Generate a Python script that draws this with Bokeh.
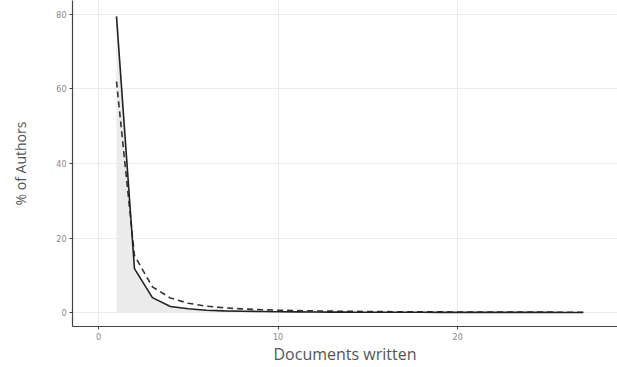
from bokeh.plotting import figure
from bokeh.models import Range1d, FixedTicker
from bokeh.embed import file_html
from bokeh.resources import INLINE

docs = list(range(1, 28))
observed = [79.5, 11.8, 4.0, 1.6, 1.0, 0.6, 0.45, 0.35, 0.28, 0.22, 0.18, 0.15, 0.12, 0.1,
            0.09, 0.08, 0.07, 0.06, 0.05, 0.05, 0.04, 0.04, 0.03, 0.03, 0.03, 0.02, 0.02]
theoretical = [62.0, 15.3, 6.9, 3.9, 2.5, 1.7, 1.27, 0.97, 0.77, 0.62, 0.51, 0.43, 0.37, 0.32,
               0.28, 0.24, 0.21, 0.19, 0.17, 0.155, 0.14, 0.13, 0.12, 0.11, 0.1, 0.09, 0.085]
x_ticks = [0, 10, 20]
y_ticks = [0, 20, 40, 60, 80]

p = figure(width=617, height=367, output_backend="svg", toolbar_location=None,
           x_range=Range1d(-1.45, 28.9), y_range=Range1d(-3.75, 83.75),
           min_border_left=72, min_border_right=0, min_border_top=0, min_border_bottom=40)
p.outline_line_color = None
p.background_fill_color = "white"

p.varea(x=docs, y1=[0] * len(docs), y2=observed, fill_color="#EBEBEB", fill_alpha=1.0)
p.line(docs, theoretical, line_color="#333333", line_width=1.6, line_dash="6 4")
p.line(docs, observed, line_color="#222222", line_width=1.6)

for ax in (p.xaxis, p.yaxis):
    ax.axis_line_color = "#444444"
    ax.axis_line_width = 1.2
    ax.major_tick_line_color = "#444444"
    ax.major_tick_out = 3
    ax.major_tick_in = 0
    ax.minor_tick_line_color = None
    ax.major_label_text_color = "#888888"
    ax.major_label_text_font_size = "8px"
    ax.major_label_text_font = "DejaVu Sans"
    ax.major_label_standoff = 3
    ax.axis_label_text_color = "#555555"
    ax.axis_label_text_font = "Open Sans"
    ax.axis_label_text_font_style = "normal"

p.xaxis.ticker = FixedTicker(ticks=x_ticks)
p.yaxis.ticker = FixedTicker(ticks=y_ticks)
p.xaxis.axis_label = "Documents written"
p.yaxis.axis_label = "% of Authors"
p.xaxis.axis_label_text_font_size = "16px"
p.yaxis.axis_label_text_font_size = "14px"
p.xaxis.axis_label_standoff = 0
p.yaxis.axis_label_standoff = 23

p.xgrid.ticker = FixedTicker(ticks=x_ticks)
p.ygrid.ticker = FixedTicker(ticks=y_ticks)
p.grid.grid_line_color = "#EBEBEB"
p.grid.grid_line_width = 1

open("out.html", "w").write(file_html(p, INLINE))
